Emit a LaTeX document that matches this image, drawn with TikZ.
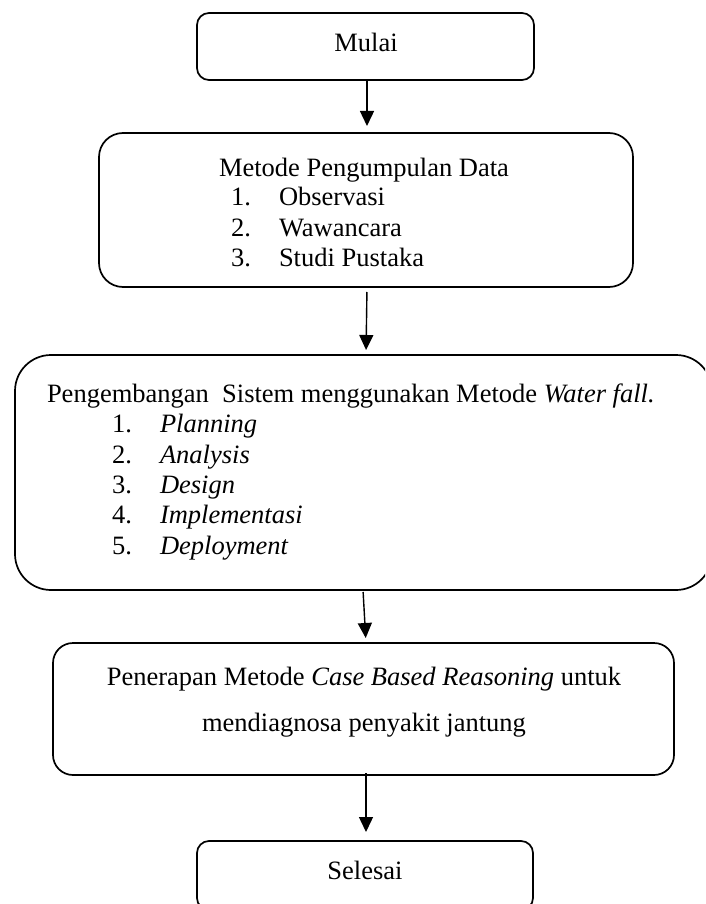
\documentclass[tikz,border=0pt]{standalone}
\usepackage{fontspec}
\setmainfont{Liberation Serif}
\usetikzlibrary{arrows.meta}
\begin{document}
\begin{tikzpicture}[x=1pt,y=-1pt,
  box/.style={draw,line width=1.7pt,rounded corners=#1,inner sep=0pt,outer sep=0pt},
  box/.default=12pt,
  txt/.style={inner sep=0pt,outer sep=0pt,font=\fontsize{26.5}{30}\selectfont},
  flow/.style={-{Triangle[length=15pt,width=14pt]},line width=1.4pt}]
\clip (0,0) rectangle (705,904);
% boxes
\node[box=12pt,minimum width=337pt,minimum height=67pt] (mulai) at (365.5,46.5) {};
\node[box=24pt,minimum width=534pt,minimum height=154pt] (data) at (366,210) {};
\node[box=36pt,minimum width=697pt,minimum height=235pt] (sistem) at (363.5,472.5) {};
\node[box=20pt,minimum width=621pt,minimum height=132pt] (cbr) at (363.5,709) {};
\node[box=12pt,minimum width=336pt,minimum height=69pt] (selesai) at (365,875.5) {};
% texts
\node[txt,anchor=base] (tmulai) at (366,51.7) {Mulai};
\node[txt,anchor=base west] (d0) at (219,176) {Metode Pengumpulan Data};
\node[txt,anchor=base west] (d1n) at (231,205) {1.};
\node[txt,anchor=base west] (d1) at (279,205) {Observasi};
\node[txt,anchor=base west] (d2n) at (231,236) {2.};
\node[txt,anchor=base west] (d2) at (279,236) {Wawancara};
\node[txt,anchor=base west] (d3n) at (231,266) {3.};
\node[txt,anchor=base west] (d3) at (279,266) {Studi Pustaka};
\node[txt,anchor=base west] (s0) at (47,402) {Pengembangan\ \ Sistem menggunakan Metode \textit{Water fall.}};
\node[txt,anchor=base west] (s1n) at (112,432) {1.};
\node[txt,anchor=base west] (s1) at (160,432) {\textit{Planning}};
\node[txt,anchor=base west] (s2n) at (112,463) {2.};
\node[txt,anchor=base west] (s2) at (160,463) {\textit{Analysis}};
\node[txt,anchor=base west] (s3n) at (112,493) {3.};
\node[txt,anchor=base west] (s3) at (160,493) {\textit{Design}};
\node[txt,anchor=base west] (s4n) at (112,523) {4.};
\node[txt,anchor=base west] (s4) at (160,523) {\textit{Implementasi}};
\node[txt,anchor=base west] (s5n) at (112,554) {5.};
\node[txt,anchor=base west] (s5) at (160,554) {\textit{Deployment}};
\node[txt,anchor=base] (c1) at (364,685) {Penerapan Metode \textit{Case Based Reasoning} untuk};
\node[txt,anchor=base] (c2) at (364,731) {mendiagnosa penyakit jantung};
\node[txt,anchor=base] (tselesai) at (365,879) {Selesai};
% connectors
\draw[flow,shorten >=7pt] ([xshift=1.5pt]mulai.south) -- ([xshift=1pt]data.north);
\draw[flow,shorten <=5pt,shorten >=5pt] ([xshift=1pt]data.south) -- ([xshift=2.5pt]sistem.north);
\draw[flow,shorten <=2pt,shorten >=5pt] ([xshift=-0.5pt]sistem.south) -- ([xshift=2.5pt]cbr.north);
\draw[flow,shorten <=-2pt,shorten >=9pt] ([xshift=2.5pt]cbr.south) -- ([xshift=1pt]selesai.north);
\end{tikzpicture}
\end{document}
